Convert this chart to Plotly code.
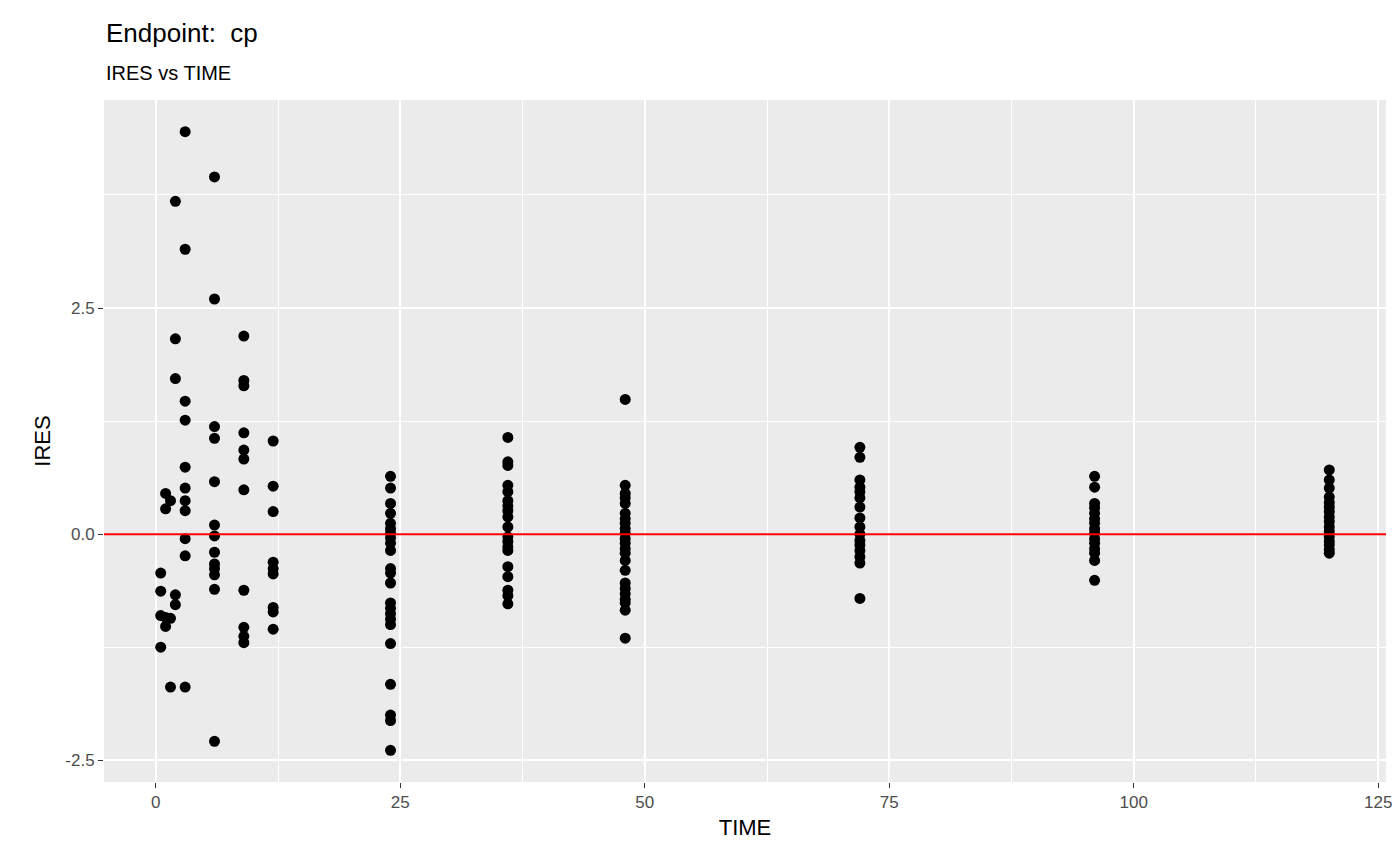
import plotly.graph_objects as go

t05 = [-0.43, -0.63, -0.90, -1.25]
t1 = [0.45, 0.28, -1.02, -0.92]
t15 = [0.37, -0.93, -1.69]
t2 = [3.68, 2.16, 1.72, -0.67, -0.78]
t3 = [4.45, 3.15, 1.47, 1.26, 0.74, 0.51, 0.37, 0.26, -0.05, -0.24, -1.69]
t6 = [3.95, 2.60, 1.19, 1.06, 0.58, 0.10, -0.02, -0.20, -0.33, -0.38, -0.45, -0.61, -2.29]
t9 = [2.19, 1.70, 1.64, 1.12, 0.93, 0.83, 0.49, -0.62, -1.03, -1.13, -1.20]
t12 = [1.03, 0.53, 0.25, -0.31, -0.38, -0.44, -0.81, -0.86, -1.05]
t24 = [0.64, 0.51, 0.34, 0.23, 0.12, 0.06, 0.01, -0.04, -0.10, -0.18, -0.38, -0.43, -0.54,
       -0.76, -0.82, -0.88, -0.94, -1.00, -1.21, -1.66, -2.00, -2.06, -2.39]
t36 = [1.07, 0.80, 0.76, 0.54, 0.47, 0.37, 0.31, 0.26, 0.19, 0.08, -0.03, -0.08, -0.14, -0.18,
       -0.36, -0.47, -0.62, -0.68, -0.77]
t48 = [1.49, 0.54, 0.45, 0.40, 0.34, 0.23, 0.17, 0.12, 0.06, 0.01, -0.05, -0.10, -0.16, -0.21,
       -0.29, -0.40, -0.54, -0.60, -0.66, -0.72, -0.76, -0.84, -1.15]
t72 = [0.96, 0.85, 0.60, 0.52, 0.47, 0.40, 0.30, 0.18, 0.08, 0.00, -0.07, -0.12, -0.18, -0.25, -0.32, -0.71]
t96 = [0.64, 0.52, 0.34, 0.29, 0.23, 0.17, 0.12, 0.06, 0.01, -0.05, -0.10, -0.16, -0.21, -0.29, -0.51]
t120 = [0.71, 0.60, 0.51, 0.41, 0.35, 0.30, 0.25, 0.19, 0.14, 0.08, 0.03, -0.03, -0.08, -0.12, -0.17, -0.21]

groups = [(0.5, t05), (1, t1), (1.5, t15), (2, t2), (3, t3), (6, t6), (9, t9), (12, t12),
          (24, t24), (36, t36), (48, t48), (72, t72), (96, t96), (120, t120)]
xs, ys = [], []
for t, vals in groups:
    xs += [t] * len(vals)
    ys += vals

fig = go.Figure()
fig.add_trace(go.Scatter(x=xs, y=ys, mode="markers",
                         marker=dict(color="black", size=11), showlegend=False))
fig.add_hline(y=0, line=dict(color="red", width=2))

fig.add_annotation(text="Endpoint:  cp", xref="paper", yref="paper", x=0, y=1.0,
                   xanchor="left", yanchor="bottom", yshift=50, showarrow=False,
                   font=dict(size=26, color="black"))
fig.add_annotation(text="IRES vs TIME", xref="paper", yref="paper", x=0, y=1.0,
                   xanchor="left", yanchor="bottom", yshift=14, showarrow=False,
                   font=dict(size=20, color="black"))

fig.update_layout(
    width=1400, height=865, plot_bgcolor="#EBEBEB", paper_bgcolor="white",
    margin=dict(l=96, r=22, t=92, b=91),
    font=dict(family="Liberation Sans, Arial", color="#4D4D4D", size=17),
    xaxis=dict(range=[-5.3, 125.8], tickvals=[0, 25, 50, 75, 100, 125],
               gridcolor="white", gridwidth=2, zeroline=False, ticks="outside",
               ticklen=5, tickcolor="#333", showline=False,
               minor=dict(tickvals=[12.5, 37.5, 62.5, 87.5, 112.5], showgrid=True,
                          gridcolor="white", gridwidth=1),
               title=dict(text="TIME", font=dict(size=22, color="black"), standoff=8)),
    yaxis=dict(range=[-2.74, 4.8], tickvals=[-2.5, 0, 2.5], ticktext=["-2.5", "0.0", "2.5"],
               gridcolor="white", gridwidth=2, zeroline=False, ticks="outside",
               ticklen=5, tickcolor="#333",
               minor=dict(tickvals=[-1.25, 1.25, 3.75], showgrid=True,
                          gridcolor="white", gridwidth=1),
               title=dict(text="IRES", font=dict(size=22, color="black"), standoff=8)),
)
fig.write_html("out.html")
